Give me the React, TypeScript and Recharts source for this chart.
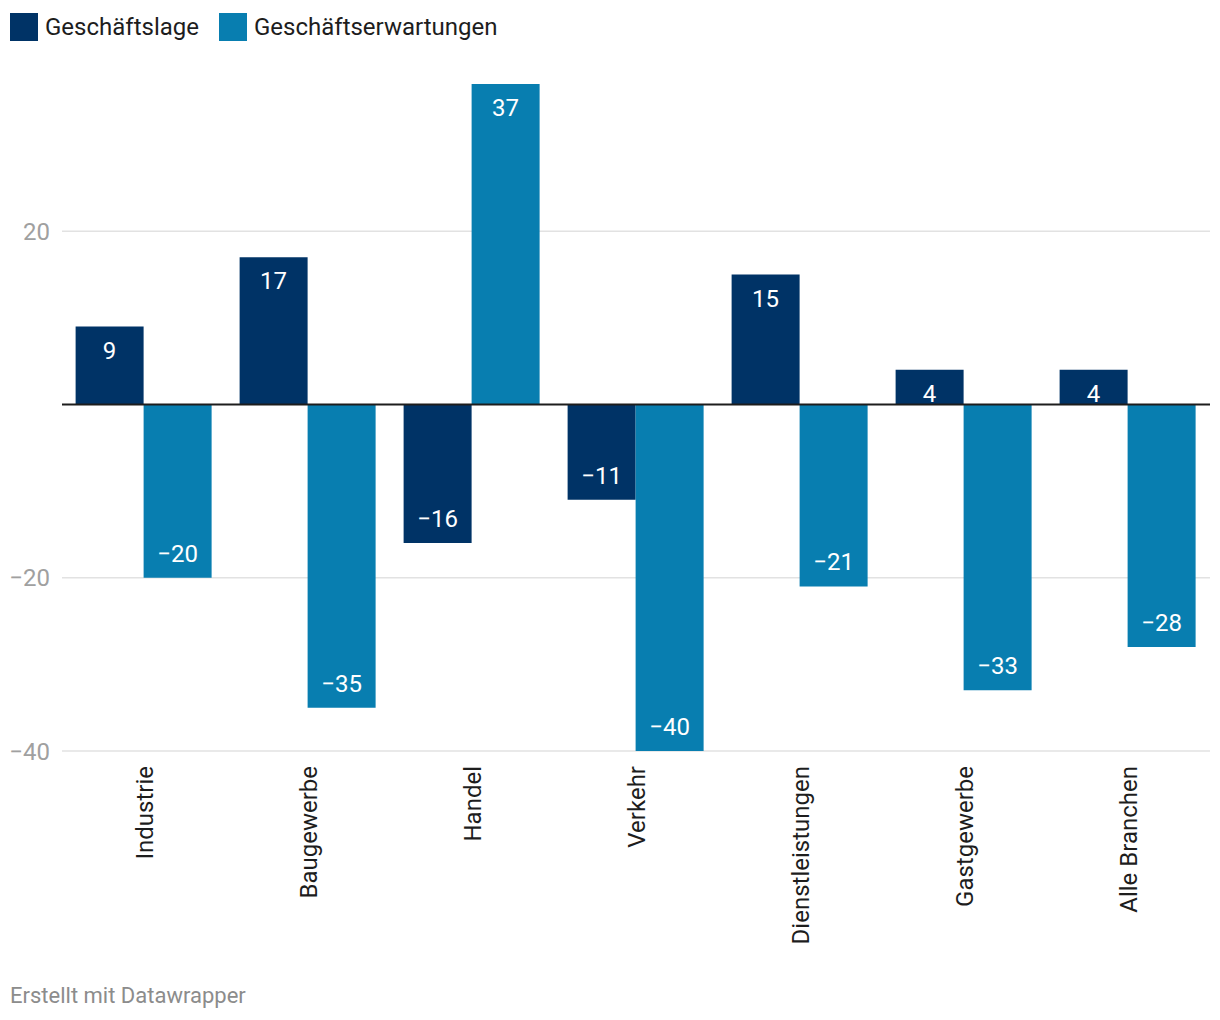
import { BarChart, Bar, XAxis, YAxis, CartesianGrid, ReferenceLine, LabelList } from 'recharts';

const branchen = ['Industrie', 'Baugewerbe', 'Handel', 'Verkehr', 'Dienstleistungen', 'Gastgewerbe', 'Alle Branchen'];
const geschaeftslage = [9, 17, -16, -11, 15, 4, 4];
const geschaeftserwartungen = [-20, -35, 37, -40, -21, -33, -28];
const yTicks = [-40, -20, 20];

const DARK = '#003366';
const LIGHT = '#087eb0';
const FONT = 'Roboto, "Noto Sans", sans-serif';

const data = branchen.map((name, i) => ({
  name,
  lage: geschaeftslage[i],
  erwartung: geschaeftserwartungen[i],
}));

const fmt = (v: number) => (v < 0 ? '\u2212' + Math.abs(v) : String(v));

// label sits inside the bar, near its outer end
function BarValue(props: any) {
  const { x, y, width, height, value } = props;
  const neg = value < 0;
  const top = Math.min(y, y + height);
  const bottom = Math.max(y, y + height);
  const ty = neg ? bottom - 24 : top + 24;
  return (
    <text
      x={x + width / 2}
      y={ty}
      fill="#fff"
      fontSize={24}
      fontFamily={FONT}
      textAnchor="middle"
      dominantBaseline="central"
    >
      {fmt(value)}
    </text>
  );
}

function CategoryTick(props: any) {
  const { x, y, payload } = props;
  return (
    <text
      transform={`translate(${x + 1},${y}) rotate(-90)`}
      textAnchor="end"
      dominantBaseline="central"
      fontSize={24}
      fontFamily={FONT}
      fill="#1d1d1d"
    >
      {payload.value}
    </text>
  );
}

function LegendBox() {
  const items = [
    { label: 'Geschäftslage', color: DARK },
    { label: 'Geschäftserwartungen', color: LIGHT },
  ];
  return (
    <div
      style={{
        position: 'absolute',
        top: 13,
        left: 10,
        display: 'flex',
        alignItems: 'center',
        fontFamily: FONT,
        fontSize: 24,
        color: '#1d1d1d',
        lineHeight: '28px',
      }}
    >
      {items.map((it) => (
        <div key={it.label} style={{ display: 'flex', alignItems: 'center', marginRight: 20 }}>
          <span style={{ width: 28, height: 28, background: it.color, display: 'inline-block', marginRight: 7 }} />
          <span>{it.label}</span>
        </div>
      ))}
    </div>
  );
}

export default function App() {
  return (
    <div style={{ position: 'absolute', left: 0, top: 0, width: 1220, height: 1020, background: '#fff', fontFamily: FONT }}>
      <LegendBox />
      <BarChart
        width={1220}
        height={1020}
        data={data}
        margin={{ top: 84, right: 10, bottom: 69, left: 0 }}
        barCategoryGap="8.3%"
        barGap={0}
      >
        <CartesianGrid horizontal vertical={false} horizontalValues={yTicks} stroke="#e2e2e2" strokeWidth={1.5} />
        <XAxis
          dataKey="name"
          axisLine={false}
          tickLine={false}
          interval={0}
          height={200}
          tick={<CategoryTick />}
          tickMargin={9}
        />
        <YAxis
          width={62}
          domain={[-40, 37]}
          allowDataOverflow
          ticks={yTicks}
          axisLine={false}
          tickLine={false}
          tickSize={0}
          tickMargin={12}
          tickFormatter={fmt}
          tick={{ fontSize: 24, fill: '#a0a0a0', fontFamily: FONT }}
        />
        <Bar dataKey="lage" fill={DARK} isAnimationActive={false}>
          <LabelList dataKey="lage" content={<BarValue />} />
        </Bar>
        <Bar dataKey="erwartung" fill={LIGHT} isAnimationActive={false}>
          <LabelList dataKey="erwartung" content={<BarValue />} />
        </Bar>
        <ReferenceLine y={0} stroke="#1d1d1d" strokeWidth={2} />
      </BarChart>
      <div style={{ position: 'absolute', left: 10, top: 983, fontSize: 22, color: '#8c8c8c', fontFamily: FONT }}>
        Erstellt mit Datawrapper
      </div>
    </div>
  );
}
